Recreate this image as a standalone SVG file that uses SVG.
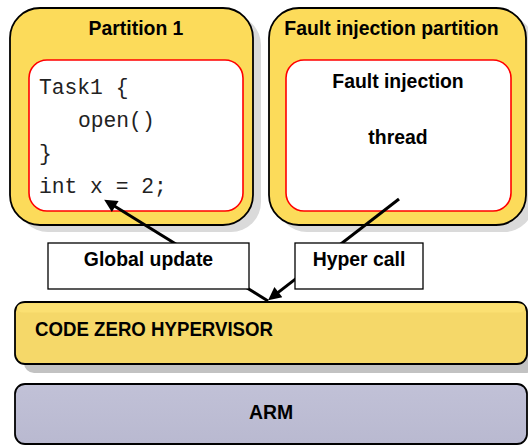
<svg xmlns="http://www.w3.org/2000/svg" width="528" height="445" viewBox="0 0 528 445">
<defs>
<style>
.part{fill:#fcdb5a;stroke:#000;stroke-width:1.8}
.shadow{fill:#dadada}
.inner{fill:#fff;stroke:#ff0000;stroke-width:1.6}
.title{font-family:"Liberation Sans",Arial,sans-serif;font-weight:bold;font-size:19.4px;fill:#000}
.code{font-family:"Liberation Mono","Courier New",monospace;font-size:21.3px;fill:#222}
.lbl{fill:#fff;stroke:#000;stroke-width:1.3}
.conn{stroke:#000;stroke-width:3;fill:none;marker-end:url(#arrow)}
</style>
<marker id="arrow" viewBox="0 0 10 10" refX="3" refY="5" markerWidth="15" markerHeight="13" markerUnits="userSpaceOnUse" orient="auto">
<path d="M0,0 L10,5 L0,10 z" fill="#000"/>
</marker>
<linearGradient id="armg" x1="0" y1="0" x2="0" y2="1">
<stop offset="0" stop-color="#c1c1d7"/>
<stop offset="1" stop-color="#b9b9d0"/>
</linearGradient>
</defs>

<g id="partition1">
<rect class="shadow" x="18" y="15" width="243" height="217" rx="30"/>
<rect class="part" x="10" y="8" width="243" height="217" rx="30"/>
<text class="title" x="136" y="35" text-anchor="middle">Partition 1</text>
<rect class="inner" x="29" y="60" width="214" height="151" rx="18"/>
<text class="code" x="39" y="94">Task1 {</text>
<text class="code" x="78" y="127">open()</text>
<text class="code" x="39" y="160">}</text>
<text class="code" x="39" y="193">int x = 2;</text>
</g>

<g id="fault-partition">
<rect class="shadow" x="277" y="15" width="257" height="217" rx="30"/>
<rect class="part" x="269" y="8" width="257" height="217" rx="30"/>
<text class="title" x="391.5" y="35" text-anchor="middle">Fault injection partition</text>
<rect class="inner" x="286" y="60" width="225" height="151" rx="18"/>
<text class="title" x="398" y="88" text-anchor="middle">Fault injection</text>
<text class="title" x="398" y="144" text-anchor="middle">thread</text>
</g>

<g id="connectors">
<line class="conn" x1="268" y1="301" x2="111.9" y2="204.5"/>
<line class="conn" x1="399" y1="199" x2="275.3" y2="294.6"/>
</g>

<g id="global-update">
<rect class="lbl" x="48" y="243" width="201" height="46"/>
<text class="title" x="148.5" y="266" text-anchor="middle">Global update</text>
</g>

<g id="hyper-call">
<rect class="lbl" x="295" y="243" width="128" height="46"/>
<text class="title" x="359" y="266" text-anchor="middle">Hyper call</text>
</g>

<g id="hypervisor">
<rect x="24" y="311" width="512" height="62" rx="10" fill="#c2c2c2"/>
<rect x="15" y="302" width="512" height="62" rx="10" fill="#f5d869" stroke="#000" stroke-width="1.8"/>
<rect x="17" y="303.5" width="508" height="9" rx="6" fill="#fbe072"/>
<text class="title" x="35" y="336" textLength="238" lengthAdjust="spacingAndGlyphs">CODE ZERO HYPERVISOR</text>
</g>

<g id="arm">
<rect x="15" y="384" width="512" height="60" rx="10" fill="url(#armg)" stroke="#000" stroke-width="1.8"/>
<text class="title" x="271" y="419" text-anchor="middle">ARM</text>
</g>
</svg>
